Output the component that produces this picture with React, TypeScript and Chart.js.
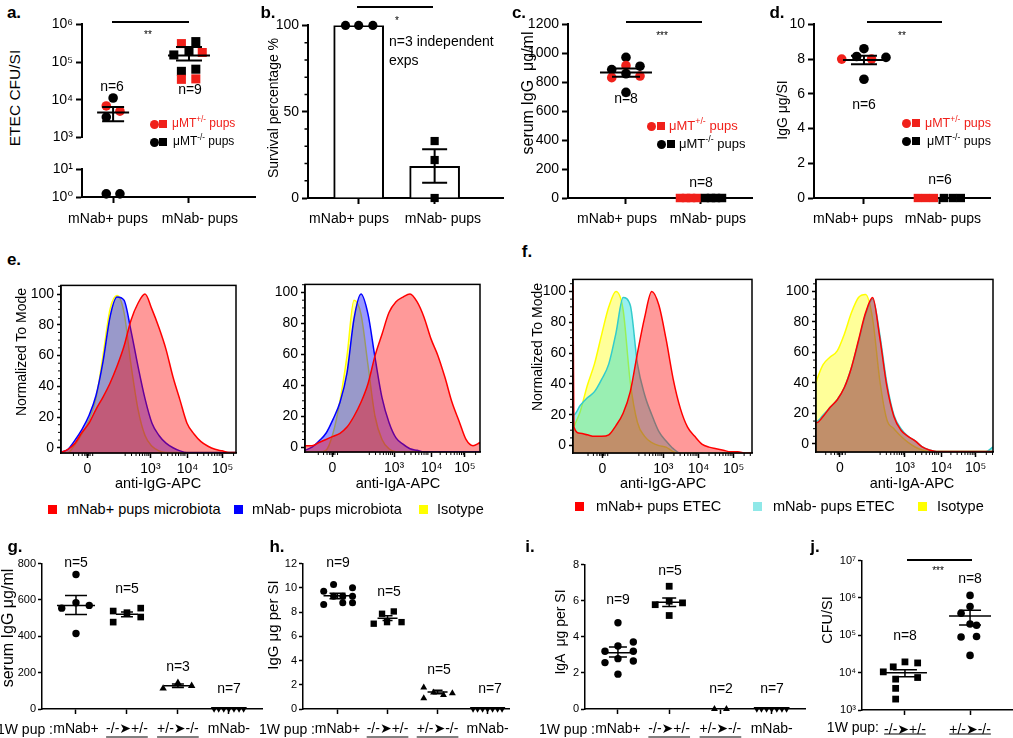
import React, { useEffect, useRef } from 'react';
import { Chart, registerables } from 'chart.js';

Chart.register(...registerables);

const FONT = "'Liberation Sans', Arial, Helvetica, 'DejaVu Sans', sans-serif";
Chart.defaults.font.family = FONT;
const RED = '#f0201a';
const BLACK = '#000000';

/* ===================== DATA ===================== */
// ---- panel a (ETEC CFU/SI, broken log axis) ----
const A_CATEGORIES = ['mNab+ pups', 'mNab- pups'];
const A_PLUS_VALUES = [11200, 6900, 5000, 3500, 1.3, 1.3];
const A_PLUS_GENOTYPE = ['ko', 'het', 'het', 'ko', 'ko', 'ko'];
const A_PLUS_JITTER = [0, -0.09, 0.09, -0.09, -0.09, 0.09];
const A_MINUS_VALUES = [310000, 350000, 200000, 180000, 155000, 57000, 65000, 35000, 36000];
const A_MINUS_GENOTYPE = ['het', 'ko', 'ko', 'het', 'ko', 'ko', 'ko', 'het', 'het'];
const A_MINUS_JITTER = [-0.1, 0.09, 0, 0.175, -0.2, -0.1, 0.09, -0.1, 0.09];
const A_MEAN = [4600, 150000];
const A_SEM_LOW = [2700, 110000];
const A_SEM_HIGH = [6500, 250000];
const A_UPPER_TICKS = [1e3, 1e4, 1e5, 1e6];
const A_UPPER_LABELS = ['10³', '10⁴', '10⁵', '10⁶'];
const A_LOWER_TICKS = [1, 10];
const A_LOWER_LABELS = ['10⁰', '10¹'];

// ---- panel b (survival %) ----
const B_CATEGORIES = ['mNab+ pups', 'mNab- pups'];
const B_BARS = [100, 18.3];
const B_PLUS_VALUES = [100, 100, 100];
const B_PLUS_JITTER = [-0.173, 0, 0.187];
const B_MINUS_VALUES = [33, 22, 0];
const B_MINUS_JITTER = [0, 0, 0];
const B_SEM_LOW = [100, 8.9];
const B_SEM_HIGH = [100, 28.2];
const B_TICKS = [0, 50, 100];
const B_LABELS = ['0', '50', '100'];

// ---- panel c (serum IgG) ----
const C_CATEGORIES = ['mNab+ pups', 'mNab- pups'];
const C_PLUS_VALUES = [972, 888, 915, 911, 859, 832, 843, 730];
const C_PLUS_GENOTYPE = ['ko', 'ko', 'het', 'ko', 'ko', 'het', 'het', 'ko'];
const C_PLUS_JITTER = [0, -0.19, 0, 0.187, 0, -0.19, 0.187, 0];
const C_MINUS_VALUES = [0, 0, 0, 0, 0, 0, 0, 0];
const C_MINUS_GENOTYPE = ['het', 'het', 'het', 'het', 'ko', 'ko', 'ko', 'ko'];
const C_MINUS_JITTER = [-0.28, -0.2, -0.133, -0.053, 0.053, 0.133, 0.2, 0.28];
const C_MEAN = [868];
const C_SEM_LOW = [838];
const C_SEM_HIGH = [895];
const C_TICKS = [0, 200, 400, 600, 800, 1000, 1200];
const C_LABELS = ['0', '200', '400', '600', '800', '1000', '1200'];

// ---- panel d (IgG per SI) ----
const D_CATEGORIES = ['mNab+ pups', 'mNab- pups'];
const D_PLUS_VALUES = [8.0, 8.15, 8.6, 8.0, 8.1, 6.84];
const D_PLUS_GENOTYPE = ['het', 'ko', 'ko', 'het', 'ko', 'ko'];
const D_PLUS_JITTER = [-0.293, -0.096, 0, 0.1, 0.29, 0];
const D_MINUS_VALUES = [0, 0, 0, 0, 0, 0];
const D_MINUS_GENOTYPE = ['het', 'het', 'het', 'ko', 'ko', 'ko'];
const D_MINUS_JITTER = [-0.29, -0.184, -0.079, 0.053, 0.17, 0.276];
const D_MEAN = [7.95];
const D_SEM_LOW = [7.7];
const D_SEM_HIGH = [8.2];
const D_TICKS = [0, 2, 4, 6, 8, 10];
const D_LABELS = ['0', '2', '4', '6', '8', '10'];

// ---- panels e / f (flow histograms, x in display channel units 0-100) ----
const E_X = [0, 4, 8, 12, 16, 20, 24, 28, 32, 36, 40, 44, 48, 52, 56, 60, 64, 68, 72, 76, 80, 84, 88, 92, 96, 100];
const E_IGG_PLUS = [-3, -1, 3, 10, 16, 25, 33, 42, 53, 66, 83, 94, 100, 90, 78, 64, 46, 31, 16, 9, 4, 1, -1, -2, -3, -3];
const E_IGG_MINUS = [-3, -1, 5, 12, 21, 34, 56, 85, 98, 96, 76, 53, 32, 16, 8, 3, 0, -2, -3, -3, -3, -3, -3, -3, -3, -3];
const E_IGG_ISO = [-3, -3, 2, 9, 18, 32, 60, 90, 99, 88, 54, 25, 8, 1, -2, -3, -3, -3, -3, -3, -3, -3, -3, -3, -3, -3];
const E_IGA_PLUS = [1, 1, 3, 5, 7, 9, 13, 20, 29, 41, 59, 73, 87, 94, 97, 99, 94, 84, 70, 59, 45, 29, 17, 5, 1, 3];
const E_IGA_MINUS = [-2, 0, 4, 9, 18, 29, 48, 83, 99, 86, 58, 32, 16, 6, 2, -1, -2, -3, -3, -3, -3, -3, -3, -3, -3, -3];
const E_IGA_ISO = [-3, -3, -3, -2, 9, 30, 59, 95, 86, 53, 20, 5, -1, -3, -3, -3, -3, -3, -3, -3, -3, -3, -3, -3, -3, -3];
const F_X = [0, 0.5, 4, 8, 12, 16, 20, 24, 28, 32, 36, 40, 44, 48, 52, 56, 60, 64, 68, 72, 76, 80, 84, 88, 92, 96, 100];
const F_IGG_PLUS = [104, 12, 8, 7, 6, 6, 7, 13, 21, 35, 60, 83, 100, 91, 69, 43, 24, 12, 6, 1, -1, -2, -3, -4, -4, -5, -5];
const F_IGG_MINUS = [20, 20, 26, 31, 35, 43, 53, 73, 96, 91, 53, 33, 20, 9, 3, -2, -5, -5, -5, -5, -5, -5, -5, -5, -5, -5, -5];
const F_IGG_ISO = [10, 12, 22, 39, 53, 72, 90, 100, 88, 41, 15, 6, 2, 0, -1, -4, -5, -5, -5, -5, -5, -5, -5, -5, -5, -5, -5];
const F_IGA_PLUS = [14, 14, 18, 24, 29, 37, 50, 68, 86, 96, 70, 38, 18, 9, 5, 2, -2, -4, -5, -5, -5, -5, -5, -5, -5, -5, -5];
const F_IGA_MINUS = [15, 15, 19, 24, 29, 37, 50, 67, 85, 95, 72, 40, 19, 10, 5, 2, -2, -4, -5, -5, -5, -5, -5, -5, -5, -5, -2];
const F_IGA_ISO = [40, 42, 52, 57, 61, 72, 86, 96, 98, 82, 42, 16, 10, 5, 1, -2, -4, -5, -5, -5, -5, -5, -5, -5, -5, -5, -5];
const HIST_Y_TICKS = [0, 20, 40, 60, 80, 100];
const HIST_Y_LABELS = ['0', '20', '40', '60', '80', '100'];
const HIST_X_LABELS = ['0', '10³', '10⁴', '10⁵'];
const E_IGG_X_TICKS = [15.1, 51.1, 72.3, 92.4];
const E_IGA_X_TICKS = [15.6, 50.9, 72.4, 91.4];
const F_IGG_X_TICKS = [16.4, 50.5, 70.1, 89.7];
const F_IGA_X_TICKS = [13.5, 50.2, 70.9, 90.2];

// ---- panel g (serum IgG) ----
const ROW3_CATEGORIES = ['mNab+', '-/-➤+/-', '+/-➤-/-', 'mNab-'];
const G_VALUES = [[740, 555, 585, 570, 415], [539, 530, 555, 478, 506], [113, 144, 128], [0, 0, 0, 0, 0, 0, 0]];
const G_JITTER = [[0, -0.28, 0, 0.26, 0], [-0.27, 0, 0.27, -0.27, 0.27], [-0.29, 0, 0.27], [-0.29, -0.2, -0.1, 0, 0.1, 0.2, 0.29]];
const G_MEAN = [570, 521, 128];
const G_SEM_LOW = [520, 508, 118];
const G_SEM_HIGH = [625, 534, 138];
const G_TICKS = [0, 200, 400, 600, 800];
const G_LABELS = ['0', '200', '400', '600', '800'];

// ---- panel h (IgG per SI) ----
const H_VALUES = [[9.72, 10.27, 10.0, 8.63, 9.31, 9.31, 9.31, 8.77, 8.77], [7.04, 7.86, 8.05, 7.17, 7.17], [1.78, 0.88, 1.37, 1.15, 1.29], [0, 0, 0, 0, 0, 0, 0]];
const H_JITTER = [[-0.276, -0.079, 0.3, -0.276, -0.079, 0.105, 0.3, 0.105, 0.3], [-0.276, -0.11, 0.125, -0.01, 0.28], [-0.276, -0.276, -0.08, 0.118, 0.296], [-0.29, -0.2, -0.1, 0, 0.1, 0.2, 0.29]];
const H_MEAN = [9.34, 7.5, 1.4];
const H_SEM_LOW = [9.1, 7.3, 1.25];
const H_SEM_HIGH = [9.55, 7.7, 1.55];
const H_TICKS = [0, 2, 4, 6, 8, 10, 12];
const H_LABELS = ['0', '2', '4', '6', '8', '10', '12'];

// ---- panel i (IgA per SI) ----
const I_VALUES = [[4.78, 3.49, 3.2, 3.71, 3.2, 2.79, 2.57, 2.66, 1.93], [6.8, 5.78, 5.97, 5.88, 5.18], [0, 0], [0, 0, 0, 0, 0, 0, 0]];
const I_JITTER = [[0, 0, -0.253, 0.3, 0.3, 0, -0.253, 0.3, 0], [0, -0.273, 0, 0.26, 0], [-0.117, 0.117], [-0.29, -0.2, -0.1, 0, 0.1, 0.2, 0.29]];
const I_MEAN = [3.12, 5.91];
const I_SEM_LOW = [2.88, 5.68];
const I_SEM_HIGH = [3.43, 6.15];
const I_TICKS = [0, 2, 4, 6, 8];
const I_LABELS = ['0', '2', '4', '6', '8'];

// ---- panel j (CFU/SI) ----
const J_CATEGORIES = ['-/-➤+/-', '+/-➤-/-'];
const J_KO_TO_HET = [14300, 19400, 18200, 10500, 6700, 7400, 3800, 1960];
const J_KO_TO_HET_JITTER = [-0.18, 0, 0.195, -0.333, -0.143, 0.195, -0.143, -0.143];
const J_HET_TO_KO = [1170000, 590000, 390000, 200000, 185000, 90000, 93000, 29000];
const J_HET_TO_KO_JITTER = [0, 0, -0.138, 0, 0.1, -0.138, 0.1, 0];
const J_MEAN = [10000, 330000];
const J_SEM_LOW = [7800, 190000];
const J_SEM_HIGH = [12000, 470000];
const J_TICKS = [1e3, 1e4, 1e5, 1e6, 1e7];
const J_LABELS = ['10³', '10⁴', '10⁵', '10⁶', '10⁷'];

/* ===================== HELPERS ===================== */
type Pad = { l: number; t: number; r: number; b: number };

const ROW1Y = { size: 14, tick: 6, gap: 3, line: 2 };
const ROW1X = { size: 14, tick: 6, gap: 7, line: 2, hide: true };
const ROW3Y = { size: 11, tick: 4, gap: 2, line: 1.5 };
const ROW3X = { size: 14, tick: 5, gap: 7, line: 1.5 };
const HISTY = { size: 14, tick: 4, gap: 3, line: 1.5 };
const HISTX = { size: 14, tick: 5, gap: 3, line: 1.5 };

function yScale(sp: any, width: number) {
  return {
    type: sp.type || 'linear', position: 'left', min: sp.min, max: sp.max,
    afterBuildTicks: (s: any) => { s.ticks = sp.ticks.map((v: number) => ({ value: v })); },
    afterFit: (s: any) => { s.width = width; },
    grid: { display: true, drawOnChartArea: false, drawTicks: true, tickLength: sp.tick, tickWidth: sp.line, tickColor: '#000' },
    border: { display: true, color: '#000', width: sp.line },
    ticks: { autoSkip: false, maxRotation: 0, minRotation: 0, padding: sp.gap, color: '#000', font: { family: FONT, size: sp.size }, callback: (_v: any, i: number) => sp.labels[i] },
  };
}

function xScale(sp: any, height: number) {
  const shown = sp.display !== false;
  return {
    type: 'linear', position: 'bottom', min: sp.min, max: sp.max, offset: false, display: shown,
    afterBuildTicks: (s: any) => { s.ticks = sp.ticks.map((v: number) => ({ value: v })); },
    afterFit: (s: any) => { if (shown) s.height = height; },
    grid: { display: true, offset: false, drawOnChartArea: false, drawTicks: true, tickLength: sp.tick, tickWidth: sp.line, tickColor: '#000' },
    border: { display: true, color: '#000', width: sp.line },
    ticks: { autoSkip: false, maxRotation: 0, minRotation: 0, padding: sp.gap, color: '#000', font: { family: FONT, size: sp.size }, callback: (_v: any, i: number) => (sp.hide ? '' : sp.labels[i]) },
  };
}

function options(p: Pad, x: any, y: any) {
  return {
    responsive: false, maintainAspectRatio: false, animation: false, devicePixelRatio: 1, events: [],
    layout: { padding: { left: 0, top: p.t, right: p.r, bottom: 0 }, autoPadding: false },
    plugins: { legend: { display: false }, tooltip: { enabled: false }, title: { display: false } },
    scales: { x, y },
  };
}

function errbars(items: any[], lw: number) {
  return {
    id: 'errbars',
    afterDatasetsDraw(chart: any) {
      const { ctx } = chart; const x = chart.scales.x; const y = chart.scales.y;
      ctx.save(); ctx.strokeStyle = '#000'; ctx.lineWidth = lw;
      for (const it of items) {
        const px = x.getPixelForValue(it.x);
        ctx.beginPath();
        if (it.mean != null && it.mw) {
          const pm = y.getPixelForValue(it.mean);
          ctx.moveTo(px - it.mw, pm); ctx.lineTo(px + it.mw, pm);
        }
        const pl = y.getPixelForValue(it.lo); const ph = y.getPixelForValue(it.hi);
        ctx.moveTo(px, pl); ctx.lineTo(px, ph);
        ctx.moveTo(px - it.cw, pl); ctx.lineTo(px + it.cw, pl);
        ctx.moveTo(px - it.cw, ph); ctx.lineTo(px + it.cw, ph);
        ctx.stroke();
      }
      ctx.restore();
    },
  };
}

function minorTicks(yVals: number[], xVals: number[], len: number, lw: number) {
  return {
    id: 'minorTicks',
    afterDraw(chart: any) {
      const { ctx, chartArea: a } = chart; const x = chart.scales.x; const y = chart.scales.y;
      ctx.save(); ctx.strokeStyle = '#000'; ctx.lineWidth = lw; ctx.beginPath();
      for (const v of yVals) { const p = y.getPixelForValue(v); ctx.moveTo(a.left - len, p); ctx.lineTo(a.left, p); }
      for (const v of xVals) { const p = x.getPixelForValue(v); ctx.moveTo(p, a.bottom); ctx.lineTo(p, a.bottom + len); }
      ctx.stroke(); ctx.restore();
    },
  };
}

function frame(lw: number) {
  return {
    id: 'frame',
    afterDatasetsDraw(chart: any) {
      const { ctx, chartArea: a } = chart;
      ctx.save(); ctx.strokeStyle = '#000'; ctx.lineWidth = lw;
      ctx.strokeRect(a.left, a.top, a.right - a.left, a.bottom - a.top);
      ctx.restore();
    },
  };
}

function underline(indices: number[], size: number, offset: number) {
  return {
    id: 'underline',
    afterDraw(chart: any) {
      const { ctx } = chart; const x = chart.scales.x;
      ctx.save(); ctx.font = `${size}px ${FONT}`; ctx.strokeStyle = '#000'; ctx.lineWidth = 1;
      for (const i of indices) {
        const t = x.ticks[i]; if (!t) continue;
        const w = ctx.measureText(String(t.label)).width;
        const px = x.getPixelForValue(t.value); const yy = chart.chartArea.bottom + offset;
        ctx.beginPath(); ctx.moveTo(px - w / 2, yy); ctx.lineTo(px + w / 2, yy); ctx.stroke();
      }
      ctx.restore();
    },
  };
}

function pick(values: number[], jitter: number[], geno: string[] | null, cat: number, keep: (v: number) => boolean) {
  const idx = values.map((_, i) => i).filter((i) => keep(values[i]));
  return {
    data: idx.map((i) => ({ x: cat + jitter[i], y: values[i] })),
    colors: idx.map((i) => (geno && geno[i] === 'het' ? RED : BLACK)),
  };
}

function dots(set: any, style: string, r: number, rot = 0, order = 1) {
  return {
    type: 'scatter', data: set.data, pointStyle: style, pointRadius: r, pointHoverRadius: r,
    pointBackgroundColor: set.colors, pointBorderColor: set.colors, pointBorderWidth: 0,
    pointRotation: rot, showLine: false, clip: false, order,
  };
}

const all = () => true;

/* ===================== CHART CONFIGS ===================== */
const aUpper = (p: Pad) => ({
  type: 'scatter',
  data: { datasets: [
    dots(pick(A_PLUS_VALUES, A_PLUS_JITTER, A_PLUS_GENOTYPE, 0, (v) => v >= 1000), 'circle', 4.8),
    dots(pick(A_MINUS_VALUES, A_MINUS_JITTER, A_MINUS_GENOTYPE, 1, (v) => v >= 1000), 'rect', 6.4),
  ] },
  options: options(p,
    xScale({ min: -0.41, max: 1.87, ticks: [0, 1], labels: A_CATEGORIES, display: false, ...ROW1X }, p.b),
    yScale({ type: 'logarithmic', min: 1e3, max: 1e6, ticks: A_UPPER_TICKS, labels: A_UPPER_LABELS, ...ROW1Y }, p.l)),
  plugins: [errbars([0, 1].map((i) => ({ x: i, mean: A_MEAN[i], lo: A_SEM_LOW[i], hi: A_SEM_HIGH[i], mw: [16, 21][i], cw: [11, 13][i] })), 2)],
});

const aLower = (p: Pad) => ({
  type: 'scatter',
  data: { datasets: [
    dots(pick(A_PLUS_VALUES, A_PLUS_JITTER, A_PLUS_GENOTYPE, 0, (v) => v <= 10), 'circle', 4.8),
    dots(pick(A_MINUS_VALUES, A_MINUS_JITTER, A_MINUS_GENOTYPE, 1, (v) => v <= 10), 'rect', 6.4),
  ] },
  options: options(p,
    xScale({ min: -0.41, max: 1.87, ticks: [0, 1], labels: A_CATEGORIES, ...ROW1X }, p.b),
    yScale({ type: 'logarithmic', min: 1, max: 10, ticks: A_LOWER_TICKS, labels: A_LOWER_LABELS, ...ROW1Y }, p.l)),
});

const bChart = (p: Pad) => ({
  type: 'bar',
  data: { datasets: [
    dots(pick(B_PLUS_VALUES, B_PLUS_JITTER, null, 0, all), 'circle', 4.6),
    dots(pick(B_MINUS_VALUES, B_MINUS_JITTER, null, 1, all), 'rect', 5.8),
    { type: 'bar', data: B_BARS.map((v, i) => ({ x: i, y: v })), backgroundColor: '#ffffff', borderColor: '#000', borderWidth: 2, barThickness: 50, order: 2 },
  ] },
  options: options(p,
    xScale({ min: -0.667, max: 1.9, ticks: [0, 1], labels: B_CATEGORIES, ...ROW1X }, p.b),
    yScale({ min: 0, max: 100, ticks: B_TICKS, labels: B_LABELS, ...ROW1Y }, p.l)),
  plugins: [
    errbars([{ x: 1, mean: null, lo: B_SEM_LOW[1], hi: B_SEM_HIGH[1], mw: 0, cw: 12.5 }], 2),
    minorTicks([10, 20, 30, 40, 60, 70, 80, 90], [], 3.5, 1.5),
  ],
});

const cChart = (p: Pad) => ({
  type: 'scatter',
  data: { datasets: [
    dots(pick(C_PLUS_VALUES, C_PLUS_JITTER, C_PLUS_GENOTYPE, 0, all), 'circle', 4.8),
    dots(pick(C_MINUS_VALUES, C_MINUS_JITTER, C_MINUS_GENOTYPE, 1, all), 'rect', 6),
  ] },
  options: options(p,
    xScale({ min: -0.773, max: 1.68, ticks: [0, 1], labels: C_CATEGORIES, ...ROW1X }, p.b),
    yScale({ min: 0, max: 1200, ticks: C_TICKS, labels: C_LABELS, ...ROW1Y }, p.l)),
  plugins: [errbars([{ x: 0, mean: C_MEAN[0], lo: C_SEM_LOW[0], hi: C_SEM_HIGH[0], mw: 26, cw: 14 }], 2)],
});

const dChart = (p: Pad) => ({
  type: 'scatter',
  data: { datasets: [
    dots(pick(D_PLUS_VALUES, D_PLUS_JITTER, D_PLUS_GENOTYPE, 0, all), 'circle', 4.8),
    dots(pick(D_MINUS_VALUES, D_MINUS_JITTER, D_MINUS_GENOTYPE, 1, all), 'rect', 5.9),
  ] },
  options: options(p,
    xScale({ min: -0.658, max: 1.66, ticks: [0, 1], labels: D_CATEGORIES, ...ROW1X }, p.b),
    yScale({ min: 0, max: 10, ticks: D_TICKS, labels: D_LABELS, ...ROW1Y }, p.l)),
  plugins: [errbars([{ x: 0, mean: D_MEAN[0], lo: D_SEM_LOW[0], hi: D_SEM_HIGH[0], mw: 21, cw: 13 }], 2)],
});

function histMinorX(t: number[]) {
  const s = (t[3] - t[1]) / 2;
  const out: number[] = [];
  for (let d = -1; d < 3; d++) {
    const base = t[1] + d * s;
    for (let k = 2; k <= 9; k++) {
      const v = base + s * Math.log10(k);
      if (v > t[0] + 5 && v < 100) out.push(v);
    }
  }
  [-8, -5, -3, -1.5, -0.7, 0.7, 1.5, 3].forEach((o) => { const v = t[0] + o; if (v > 0) out.push(v); });
  return out;
}

const HIST_MINOR_Y = [5, 10, 15, 25, 30, 35, 45, 50, 55, 65, 70, 75, 85, 90, 95, 105];

function histChart(xs: number[], curves: any[], xTicks: number[], yMin: number, yMax: number) {
  return (p: Pad) => ({
    type: 'line',
    data: { datasets: curves.map((c) => ({
      data: xs.map((x, i) => ({ x, y: c.values[i] })),
      borderColor: c.line, backgroundColor: c.fill, borderWidth: 1.5, pointRadius: 0,
      fill: 'start', cubicInterpolationMode: 'monotone',
    })) },
    options: options(p,
      xScale({ min: 0, max: 100, ticks: xTicks, labels: HIST_X_LABELS, ...HISTX }, p.b),
      yScale({ min: yMin, max: yMax, ticks: HIST_Y_TICKS, labels: HIST_Y_LABELS, ...HISTY }, p.l)),
    plugins: [frame(1.5), minorTicks(HIST_MINOR_Y.filter((v) => v < yMax), histMinorX(xTicks), 3, 1)],
  });
}

const E_RED = { line: '#ff0000', fill: 'rgba(255,0,0,0.4)' };
const E_BLUE = { line: '#0000ff', fill: 'rgba(0,0,255,0.4)' };
const E_YEL = { line: '#ffff00', fill: 'rgba(255,255,0,0.35)' };
const F_RED = { line: '#ff0000', fill: 'rgba(255,0,0,0.4)' };
const F_CYAN = { line: '#33cccc', fill: 'rgba(0,215,215,0.4)' };
const F_YEL = { line: '#ffff00', fill: 'rgba(255,255,0,0.4)' };

const eIgG = histChart(E_X, [{ values: E_IGG_PLUS, ...E_RED }, { values: E_IGG_MINUS, ...E_BLUE }, { values: E_IGG_ISO, ...E_YEL }], E_IGG_X_TICKS, -3.4, 105.6);
const eIgA = histChart(E_X, [{ values: E_IGA_PLUS, ...E_RED }, { values: E_IGA_MINUS, ...E_BLUE }, { values: E_IGA_ISO, ...E_YEL }], E_IGA_X_TICKS, -3.1, 105.2);
const fIgG = histChart(F_X, [{ values: F_IGG_PLUS, ...F_RED }, { values: F_IGG_MINUS, ...F_CYAN }, { values: F_IGG_ISO, ...F_YEL }], F_IGG_X_TICKS, -4.8, 107.8);
const fIgA = histChart(F_X, [{ values: F_IGA_PLUS, ...F_RED }, { values: F_IGA_MINUS, ...F_CYAN }, { values: F_IGA_ISO, ...F_YEL }], F_IGA_X_TICKS, -5.3, 107.9);

function row3Chart(cfg: any) {
  return (p: Pad) => ({
    type: 'scatter',
    data: { datasets: cfg.values.map((vals: number[], c: number) =>
      dots(pick(vals, cfg.jitter[c], null, c, all), cfg.styles[c], cfg.radii[c], cfg.rots[c])) },
    options: options(p,
      xScale({ min: cfg.xMin, max: cfg.xMax, ticks: cfg.values.map((_: any, i: number) => i), labels: cfg.cats, ...ROW3X }, p.b),
      yScale({ type: cfg.type || 'linear', min: cfg.yMin, max: cfg.yMax, ticks: cfg.yTicks, labels: cfg.yLabels, ...ROW3Y }, p.l)),
    plugins: [
      errbars(cfg.mean.map((m: number, i: number) => ({ x: i, mean: m, lo: cfg.lo[i], hi: cfg.hi[i], mw: cfg.mw[i], cw: cfg.cw[i] })), 1.5),
      underline(cfg.under, 14, cfg.underOffset),
    ],
  });
}

const gChart = row3Chart({
  cats: ROW3_CATEGORIES, values: G_VALUES, jitter: G_JITTER, mean: G_MEAN, lo: G_SEM_LOW, hi: G_SEM_HIGH,
  xMin: -0.667, xMax: 3.65, yMin: 0, yMax: 800, yTicks: G_TICKS, yLabels: G_LABELS,
  styles: ['circle', 'rect', 'triangle', 'triangle'], radii: [3.7, 4.7, 4.3, 3.8], rots: [0, 0, 0, 180],
  mw: [19, 11, 14], cw: [11, 6, 6], under: [1, 2], underOffset: 28,
});
const hChart = row3Chart({
  cats: ROW3_CATEGORIES, values: H_VALUES, jitter: H_JITTER, mean: H_MEAN, lo: H_SEM_LOW, hi: H_SEM_HIGH,
  xMin: -0.69, xMax: 3.43, yMin: 0, yMax: 12, yTicks: H_TICKS, yLabels: H_LABELS,
  styles: ['circle', 'rect', 'triangle', 'triangle'], radii: [3.5, 4.5, 4, 3.8], rots: [0, 0, 0, 180],
  mw: [14, 10, 10], cw: [8, 5, 5], under: [1, 2], underOffset: 28,
});
const iChart = row3Chart({
  cats: ROW3_CATEGORIES, values: I_VALUES, jitter: I_JITTER, mean: I_MEAN, lo: I_SEM_LOW, hi: I_SEM_HIGH,
  xMin: -0.643, xMax: 3.65, yMin: 0, yMax: 8, yTicks: I_TICKS, yLabels: I_LABELS,
  styles: ['circle', 'rect', 'triangle', 'triangle'], radii: [3.7, 4.8, 4, 3.8], rots: [0, 0, 0, 180],
  mw: [16, 13], cw: [9, 7], under: [1, 2], underOffset: 28,
});
const jChart = row3Chart({
  cats: J_CATEGORIES, values: [J_KO_TO_HET, J_HET_TO_KO], jitter: [J_KO_TO_HET_JITTER, J_HET_TO_KO_JITTER],
  mean: J_MEAN, lo: J_SEM_LOW, hi: J_SEM_HIGH, type: 'logarithmic',
  xMin: -0.66, xMax: 1.66, yMin: 1e3, yMax: 1e7, yTicks: J_TICKS, yLabels: J_LABELS,
  styles: ['rect', 'circle'], radii: [4.8, 3.8], rots: [0, 0],
  mw: [22, 21], cw: [12, 11], under: [0, 1], underOffset: 24,
});

/* ===================== COMPONENTS ===================== */
function ChartBox({ l, t, r, b, pad, make }: { l: number; t: number; r: number; b: number; pad: Pad; make: (p: Pad) => any }) {
  const ref = useRef<HTMLCanvasElement>(null);
  const w = r - l + pad.l + pad.r;
  const h = b - t + pad.t + pad.b;
  useEffect(() => {
    const chart = new Chart(ref.current as HTMLCanvasElement, make(pad) as any);
    return () => chart.destroy();
  }, []);
  return <canvas ref={ref} width={w} height={h} style={{ position: 'absolute', left: l - pad.l, top: t - pad.t, width: w, height: h }} />;
}

function Txt({ x, y, s = 14, c = '#000', bold = false, a = 'c', rot = false, children }: any) {
  const tx = a === 'c' ? '-50%' : a === 'l' ? '0%' : '-100%';
  return (
    <div style={{
      position: 'absolute', left: x, top: y, transform: `translate(${tx},-50%)${rot ? ' rotate(-90deg)' : ''}`,
      fontSize: s, color: c, fontWeight: bold ? 'bold' : 'normal', whiteSpace: 'pre', lineHeight: 1.15, fontFamily: FONT,
    }}>{children}</div>
  );
}

function HLine({ x1, x2, y }: any) {
  return <div style={{ position: 'absolute', left: x1, top: y - 0.75, width: x2 - x1, height: 1.5, background: '#000' }} />;
}

function Mark({ x, y, size, color, round }: any) {
  return <div style={{ position: 'absolute', left: x - size / 2, top: y - size / 2, width: size, height: size, background: color, borderRadius: round ? '50%' : 0 }} />;
}

function MuLegend({ cx, sx, tx, y, color, sup, s }: any) {
  return (
    <>
      <Mark x={cx} y={y} size={9} color={color} round />
      <Mark x={sx} y={y} size={8} color={color} />
      <Txt x={tx} y={y} s={s} c={color} a="l">μMT<sup style={{ fontSize: '0.68em', lineHeight: 0 }}>{sup}</sup> pups</Txt>
    </>
  );
}

function SqLegend({ x, tx, y, color, text }: any) {
  return (
    <>
      <Mark x={x} y={y} size={9} color={color} />
      <Txt x={tx} y={y} s={14.5} a="l">{text}</Txt>
    </>
  );
}

function CatLabels({ cats, xs, y }: any) {
  return <>{cats.map((c: string, i: number) => <Txt key={i} x={xs[i]} y={y}>{c}</Txt>)}</>;
}

export default function App() {
  const P1 = { t: 8, r: 6, b: 32 };
  const PH = { l: 36, t: 4, r: 4, b: 26 };
  const P3 = { t: 8, r: 4, b: 30 };
  return (
    <div style={{ position: 'absolute', left: 0, top: 0, width: 1013, height: 738, overflow: 'hidden', background: '#fff', fontFamily: FONT }}>
      {/* row 1 */}
      <ChartBox l={82} t={21} r={255} b={149} pad={{ l: 45, t: 8, r: 6, b: 0 }} make={aUpper} />
      <ChartBox l={82} t={164} r={255} b={197} pad={{ l: 45, t: 6, r: 6, b: 32 }} make={aLower} />
      <ChartBox l={308} t={22} r={503} b={198} pad={{ l: 45, ...P1 }} make={bChart} />
      <ChartBox l={568} t={21} r={752} b={198} pad={{ l: 48, ...P1 }} make={cChart} />
      <ChartBox l={814} t={21} r={990} b={198} pad={{ l: 35, ...P1 }} make={dChart} />
      {/* row 2 */}
      <ChartBox l={61} t={278} r={236} b={453} pad={PH} make={eIgG} />
      <ChartBox l={305} t={277} r={480} b={452} pad={PH} make={eIgA} />
      <ChartBox l={573} t={272} r={752} b={453} pad={PH} make={fIgG} />
      <ChartBox l={816} t={272} r={993} b={452} pad={PH} make={fIgA} />
      {/* row 3 */}
      <ChartBox l={42} t={563} r={262} b={709} pad={{ l: 36, ...P3 }} make={gChart} />
      <ChartBox l={303} t={563} r={512} b={709} pad={{ l: 26, ...P3 }} make={hChart} />
      <ChartBox l={585} t={564} r={805} b={709} pad={{ l: 26, ...P3 }} make={iChart} />
      <ChartBox l={862} t={560} r={1013} b={710} pad={{ l: 30, t: 8, r: 0, b: 30 }} make={jChart} />

      {/* row 1 category labels */}
      <CatLabels cats={A_CATEGORIES} xs={[108, 200]} y={218} />
      <CatLabels cats={B_CATEGORIES} xs={[349, 443]} y={218} />
      <CatLabels cats={C_CATEGORIES} xs={[617, 708]} y={218} />
      <CatLabels cats={D_CATEGORIES} xs={[853, 943]} y={218} />

      {/* panel letters */}
      <Txt x={14} y={13} s={17} bold>a.</Txt>
      <Txt x={268} y={13} s={17} bold>b.</Txt>
      <Txt x={519} y={13} s={17} bold>c.</Txt>
      <Txt x={777} y={13} s={17} bold>d.</Txt>
      <Txt x={14} y={260} s={17} bold>e.</Txt>
      <Txt x={527} y={252} s={17} bold>f.</Txt>
      <Txt x={15} y={547} s={17} bold>g.</Txt>
      <Txt x={277} y={547} s={17} bold>h.</Txt>
      <Txt x={530} y={547} s={17} bold>i.</Txt>
      <Txt x={815} y={547} s={17} bold>j.</Txt>

      {/* y titles */}
      <Txt x={15} y={98} s={15.5} rot>ETEC CFU/SI</Txt>
      <Txt x={273} y={108} s={14} rot>Survival percentage %</Txt>
      <Txt x={528} y={93} s={16} rot>{'serum IgG  μg/ml'}</Txt>
      <Txt x={782} y={110} s={14} rot>IgG μg/SI</Txt>
      <Txt x={21} y={352} s={14} rot>Normalized To Mode</Txt>
      <Txt x={537} y={347} s={14} rot>Normalized To Mode</Txt>
      <Txt x={8} y={628} s={16} rot>serum IgG μg/ml</Txt>
      <Txt x={273} y={625} s={15} rot>IgG μg per SI</Txt>
      <Txt x={560} y={632} s={14} rot>{'IgA  μg per SI'}</Txt>
      <Txt x={827} y={620} s={14.5} rot>CFU/SI</Txt>

      {/* panel a annotations */}
      <HLine x1={112} x2={189} y={22} />
      <Txt x={148} y={35} s={10}>**</Txt>
      <Txt x={112} y={86}>n=6</Txt>
      <Txt x={190} y={89}>n=9</Txt>
      <MuLegend cx={154} sx={163} tx={172} y={124} color={RED} sup="+/-" s={12} />
      <MuLegend cx={154} sx={163} tx={173} y={142} color={BLACK} sup="-/-" s={12} />

      {/* panel b annotations */}
      <HLine x1={357} x2={433} y={7} />
      <Txt x={397} y={21} s={10}>*</Txt>
      <Txt x={389} y={41} a="l">n=3 independent</Txt>
      <Txt x={389} y={60} a="l">exps</Txt>

      {/* panel c annotations */}
      <HLine x1={626} x2={702} y={22} />
      <Txt x={662} y={36} s={10}>***</Txt>
      <Txt x={626} y={98}>n=8</Txt>
      <Txt x={701} y={182}>n=8</Txt>
      <MuLegend cx={651} sx={661} tx={669} y={126} color={RED} sup="+/-" s={13} />
      <MuLegend cx={661} sx={671} tx={679} y={144} color={BLACK} sup="-/-" s={13} />

      {/* panel d annotations */}
      <HLine x1={867} x2={942} y={22} />
      <Txt x={902} y={36} s={10}>**</Txt>
      <Txt x={864} y={104}>n=6</Txt>
      <Txt x={940} y={179}>n=6</Txt>
      <MuLegend cx={906} sx={916} tx={925} y={123} color={RED} sup="+/-" s={12.5} />
      <MuLegend cx={906} sx={916} tx={927} y={141} color={BLACK} sup="-/-" s={12.5} />

      {/* histogram titles & legends */}
      <Txt x={158} y={483} s={14.5}>anti-IgG-APC</Txt>
      <Txt x={398} y={483} s={14.5}>anti-IgA-APC</Txt>
      <Txt x={663} y={483} s={14.5}>anti-IgG-APC</Txt>
      <Txt x={912} y={483} s={14.5}>anti-IgA-APC</Txt>
      <SqLegend x={52.5} tx={67} y={509} color="#ff0000" text="mNab+ pups microbiota" />
      <SqLegend x={238.5} tx={252} y={509} color="#0000ff" text="mNab- pups microbiota" />
      <SqLegend x={423.5} tx={437} y={509} color="#ffff00" text="Isotype" />
      <SqLegend x={579.5} tx={596} y={506} color="#ff0000" text="mNab+ pups ETEC" />
      <SqLegend x={757.5} tx={773} y={506} color="#8fe8e8" text="mNab- pups ETEC" />
      <SqLegend x={922.5} tx={937} y={506} color="#ffff00" text="Isotype" />

      {/* row 3 annotations */}
      <Txt x={76} y={562}>n=5</Txt>
      <Txt x={127} y={588}>n=5</Txt>
      <Txt x={178} y={666}>n=3</Txt>
      <Txt x={229} y={688}>n=7</Txt>
      <Txt x={338} y={562}>n=9</Txt>
      <Txt x={389} y={591}>n=5</Txt>
      <Txt x={439} y={669}>n=5</Txt>
      <Txt x={490} y={688}>n=7</Txt>
      <Txt x={618} y={599}>n=9</Txt>
      <Txt x={670} y={570}>n=5</Txt>
      <Txt x={721} y={688}>n=2</Txt>
      <Txt x={772} y={688}>n=7</Txt>
      <Txt x={905} y={635}>n=8</Txt>
      <Txt x={970} y={578}>n=8</Txt>
      <HLine x1={907} x2={972} y={560} />
      <Txt x={938} y={571} s={10}>***</Txt>
      <Txt x={53} y={729} a="r">1W pup :</Txt>
      <Txt x={315} y={729} a="r">1W pup :</Txt>
      <Txt x={595} y={729} a="r">1W pup :</Txt>
      <Txt x={879} y={727} a="r">1W pup:</Txt>
    </div>
  );
}
